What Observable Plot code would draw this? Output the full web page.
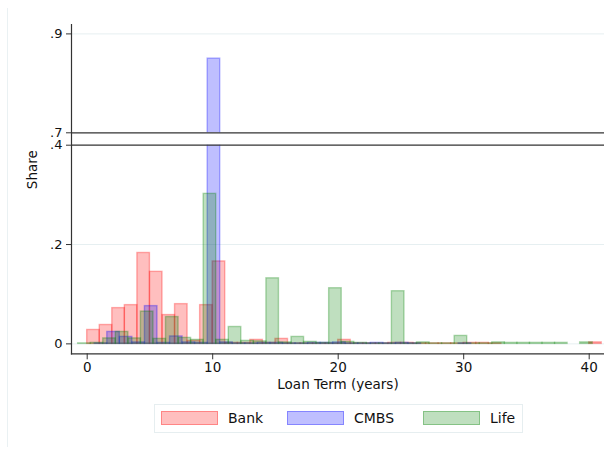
<!DOCTYPE html>
<html>
<head>
<meta charset="utf-8">
<script src="https://cdn.jsdelivr.net/npm/d3@7"></script>
<script src="https://cdn.jsdelivr.net/npm/@observablehq/plot@0.6"></script>
<style>
  body { margin: 0; background: #fff; font-family: "DejaVu Sans", sans-serif; }
  #chart { position: relative; width: 604px; height: 450px; overflow: hidden; background: #fff; }
  #chart svg { position: absolute; left: 0; top: 0; }
  .outline { position: absolute; left: 7px; top: 8px; width: 0; height: 439px; border-left: 1px solid #eaf1f3; }
  .legend { position: absolute; left: 154px; top: 404px; width: 367px; height: 27px; border: 1px solid #e6eef0; box-sizing: content-box; }
  .key { position: absolute; top: 6px; width: 55px; height: 12px; border-width: 1.5px; border-style: solid; }
  .lab { position: absolute; top: 4px; font-size: 14px; line-height: 18px; color: #111; }
</style>
</head>
<body>
<div id="chart"><div class="outline"></div></div>
<script>
// Loan term bins (years) and the share of loans falling in each bin, by lender type
const loanTerm = [0, 1, 2, 3, 4, 5, 6, 7, 8, 9, 10, 11, 12, 13, 14, 15, 16, 17, 18, 19, 20,
                  21, 22, 23, 24, 25, 26, 27, 28, 29, 30, 31, 32, 33, 34, 35, 36, 37, 38, 39, 40];

const bankShare = [0.028, 0.038, 0.072, 0.078, 0.183, 0.145, 0.058, 0.080, 0.006, 0.078,
                   0.166, 0.002, 0.002, 0.008, 0.002, 0.010, 0.001, 0.001, 0.001, 0.001,
                   0.008, 0.001, 0.001, 0.001, 0.002, 0.002, 0.001, 0.001, 0.001, 0.001,
                   0.002, 0.002, 0.001, 0, 0, 0, 0, 0, 0, 0, 0.003];

const cmbsShare = [null, 0.001, 0.024, 0.014, 0.003, 0.076, 0.002, 0.015, 0.003, 0.002,
                   0.85, 0.003, 0.001, 0.001, 0.002, 0.002, 0.001, 0.001, 0.002, 0.002,
                   0.003, 0.001, 0.001, 0.002, 0.001, 0.002, 0.001, 0, 0, 0,
                   0.001, null, null, null, null, null, null, null, null, null, null];

const lifeShare = [0.001, 0.002, 0.011, 0.024, 0.011, 0.065, 0.010, 0.054, 0.012, 0.008,
                   0.302, 0.008, 0.034, 0.006, 0.005, 0.132, 0.003, 0.014, 0.004, 0.002,
                   0.112, 0.004, 0.002, 0.001, 0.001, 0.106, 0.001, 0.003, 0.001, 0.001,
                   0.016, 0.001, 0.001, 0.003, 0.002, 0.002, 0.002, 0.002, 0.002, 0, 0.003];

const lenders = ["Bank", "CMBS", "Life"];
const lenderColors = ["rgb(255,0,0)", "rgb(0,0,255)", "rgb(0,128,0)"];
// each histogram starts its unit-width bins at a slightly different origin
const binOffset = [0, -0.4, -0.72];

const yTicks = [0, 0.2, 0.4, 0.7, 0.9];
const gridTicks = [0, 0.2, 0.9];
const xTicks = [0, 10, 20, 30, 40];
const breakLow = 0.4, breakHigh = 0.7;

const series = [bankShare, cmbsShare, lifeShare];
const rows = lenders.flatMap((lender, i) =>
  loanTerm
    .map((t, j) => ({lender, x1: t + binOffset[i], x2: t + binOffset[i] + 1, share: series[i][j]}))
    .filter(d => d.share != null)
);

const fmt = v => v === 0 ? "0" : String(v).replace(/^0\./, ".");

const plotW = 604, plotH = 400, plotTop = 24, axisPos = 353.3;

const plot = Plot.plot({
  width: plotW,
  height: plotH,
  marginLeft: 71,
  marginRight: 0,
  marginTop: plotTop,
  marginBottom: plotH - axisPos,
  style: {fontFamily: "DejaVu Sans, sans-serif", fontSize: "13.5px", color: "#111", background: "transparent"},
  x: {domain: [-1.25, 41.22]},
  // broken axis: 0–.4 below the break, .7 and up above it, same units per pixel
  y: {type: "linear", domain: [-0.02, breakLow, breakHigh, 0.919], range: [axisPos, 144.7, 132.3, plotTop]},
  color: {domain: lenders, range: lenderColors},
  marks: [
    Plot.ruleY(gridTicks, {stroke: "#e6eff1", strokeWidth: 1}),
    Plot.rect(rows, {
      x1: "x1", x2: "x2", y1: 0, y2: "share",
      fill: "lender", stroke: "lender",
      fillOpacity: 0.25, strokeOpacity: 0.3, strokeWidth: 1.4
    }),
    Plot.rect([breakLow], {y1: breakLow, y2: breakHigh, fill: "white"}),
    Plot.ruleY([breakLow, breakHigh], {stroke: "#333", strokeWidth: 1.2}),
    Plot.axisY({ticks: yTicks, tickFormat: fmt, tickSize: 5, tickPadding: 4, label: null, fontSize: 13, stroke: "#333", fill: "#111"}),
    Plot.axisX({ticks: xTicks, tickSize: 6, tickPadding: 3, label: null, stroke: "#333", fill: "#111"}),
    Plot.frame({anchor: "left", stroke: "#333", strokeWidth: 1.2}),
    Plot.frame({anchor: "bottom", stroke: "#333", strokeWidth: 1.2}),
    Plot.text(["Loan Term (years)"], {text: d => d, frameAnchor: "bottom", dy: 35.5, fill: "#111"}),
    Plot.text(["Share"], {text: d => d, frameAnchor: "left", dx: -39, rotate: -90, fill: "#111"})
  ]
});

const chart = document.getElementById("chart");
chart.appendChild(plot);

// legend box below the plot
const legend = document.createElement("div");
legend.className = "legend";
const keyX = [6, 132, 268];
const labX = [73, 199, 335];
lenders.forEach((name, i) => {
  const key = document.createElement("div");
  key.className = "key";
  key.style.left = keyX[i] + "px";
  const c = d3.color(lenderColors[i]);
  key.style.background = `rgba(${c.r},${c.g},${c.b},0.25)`;
  key.style.borderColor = `rgba(${c.r},${c.g},${c.b},0.3)`;
  legend.appendChild(key);
  const lab = document.createElement("div");
  lab.className = "lab";
  lab.style.left = labX[i] + "px";
  lab.textContent = name;
  legend.appendChild(lab);
});
chart.appendChild(legend);
</script>
</body>
</html>
